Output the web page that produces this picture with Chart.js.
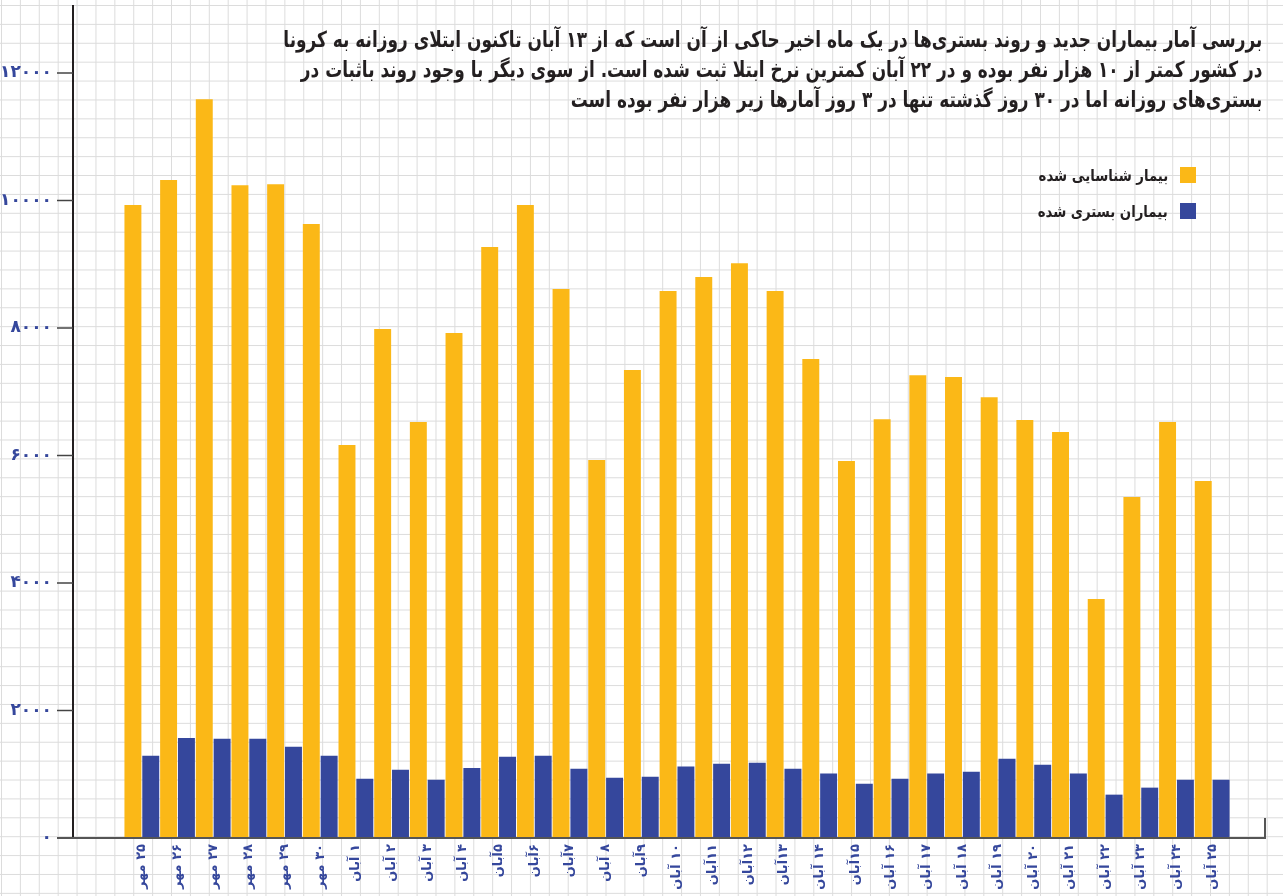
<!DOCTYPE html>
<html lang="fa">
<head>
<meta charset="utf-8">
<title>بیماران جدید و بستری</title>
<script src="https://cdn.jsdelivr.net/npm/chart.js@4.4.1/dist/chart.umd.min.js"></script>
<style>
  html, body { margin: 0; padding: 0; }
  body {
    width: 1283px; height: 896px; position: relative; overflow: hidden;
    background-color: #fff;
    /* graph paper background */
    background-image:
      linear-gradient(to right, #dcdcdc 1px, transparent 1px),
      linear-gradient(to bottom, #dcdcdc 1px, transparent 1px);
    background-size: 18.9px 18.9px;
    background-position: 1px 5px;
    font-family: "DejaVu Sans", sans-serif;
  }
  canvas { position: absolute; left: 0; top: 0; }
  #title {
    position: absolute; right: 21px; top: 25px;
    direction: rtl; text-align: right; white-space: nowrap;
    font-weight: bold; font-size: 22px; line-height: 30px; color: #231f20;
    transform-origin: right top;
  }
  #legend { position: absolute; right: 87px; top: 157px; direction: rtl; }
  .item { display: flex; align-items: center; height: 36px; }
  .box { width: 16px; height: 16px; margin-left: 12px; }
  .txt { font-weight: bold; font-size: 16px; color: #231f20; display: inline-block; transform: scaleX(0.83); transform-origin: right center; }
</style>
</head>
<body>
<canvas id="chart" width="1283" height="896" dir="rtl"></canvas>
<div id="title">
  <div>بررسی آمار بیماران جدید و روند بستری‌ها در یک ماه اخیر حاکی از آن است که از ۱۳ آبان تاکنون ابتلای روزانه به کرونا</div>
  <div>در کشور کمتر از ۱۰ هزار نفر بوده و در ۲۲ آبان کمترین نرخ ابتلا ثبت شده است. از سوی دیگر با وجود روند باثبات در</div>
  <div>بستری‌های روزانه اما در ۳۰ روز گذشته تنها در ۳ روز آمارها زیر هزار نفر بوده است</div>
</div>
<div id="legend"></div>
<script>
// days, 25 Mehr .. 25 Aban
var days = [
  "۲۵ مهر", "۲۶ مهر", "۲۷ مهر", "۲۸ مهر", "۲۹ مهر", "۳۰ مهر",
  "۱ آبان", "۲ آبان", "۳ آبان", "۴ آبان", "۵آبان", "۶آبان", "۷آبان", "۸ آبان", "۹آبان",
  "۱۰ آبان", "۱۱آبان", "۱۲آبان", "۱۳آبان", "۱۴ آبان", "۱۵آبان", "۱۶ آبان", "۱۷ آبان",
  "۱۸ آبان", "۱۹ آبان", "۲۰ آبان", "۲۱ آبان", "۲۲ آبان", "۲۳ آبان", "۲۴ آبان", "۲۵ آبان"
];

// new identified patients
var newCases = [
  9930, 10320, 11590, 10240, 10255, 9630,
  6165, 7985, 6525, 7920, 9270, 9930, 8610, 5930, 7340,
  8580, 8800, 9015, 8580, 7515, 5915, 6570, 7260,
  7230, 6915, 6555, 6370, 3750, 5350, 6525, 5600
];

// hospitalized patients
var hospitalized = [
  1290, 1570, 1555, 1555, 1430, 1290,
  930, 1070, 915, 1100, 1275, 1290, 1085, 945, 960,
  1120, 1165, 1180, 1085, 1010, 850, 930, 1010,
  1040, 1245, 1150, 1010, 680, 790, 915, 915
];

var seriesNames = ["بیمار شناسایی شده", "بیماران بستری شده"];
var seriesColors = ["#fbb817", "#35479c"];
var yMax = 12000;
var yStep = 2000;

function toFa(v) {
    return String(v).replace(/\d/g, function (d) { return "۰۱۲۳۴۵۶۷۸۹"[d]; });
}

// axis lines sit away from the bars, like the print graphic
var axisLines = {
    id: 'axisLines',
    afterDatasetsDraw: function (chart) {
        var ctx = chart.ctx;
        var y = chart.scales.y;
        var x0 = 73;
        var y0 = y.getPixelForValue(0);
        ctx.save();
        ctx.strokeStyle = '#231f20';
        ctx.lineWidth = 2;
        ctx.beginPath();
        ctx.moveTo(x0, 5);
        ctx.lineTo(x0, y0);
        ctx.stroke();
        ctx.lineWidth = 1.5;
        ctx.strokeStyle = '#444';
        y.ticks.forEach(function (t) {
            var py = y.getPixelForValue(t.value);
            ctx.beginPath();
            ctx.moveTo(57, py);
            ctx.lineTo(x0, py);
            ctx.stroke();
        });
        ctx.strokeStyle = '#555';
        ctx.lineWidth = 2;
        ctx.beginPath();
        ctx.moveTo(57, y0);
        ctx.lineTo(1265, y0);
        ctx.lineTo(1265, y0 - 20);
        ctx.stroke();
        ctx.restore();
    }
};

var chart = new Chart(document.getElementById('chart'), {
    type: 'bar',
    data: {
        labels: days,
        datasets: [{
            label: seriesNames[0],
            data: newCases,
            backgroundColor: seriesColors[0]
        }, {
            label: seriesNames[1],
            data: hospitalized,
            backgroundColor: seriesColors[1]
        }]
    },
    options: {
        responsive: false,
        animation: false,
        layout: { padding: { top: 73, right: 53, left: 0, bottom: 0 } },
        plugins: { legend: { display: false }, tooltip: { enabled: false } },
        datasets: { bar: { categoryPercentage: 1, barPercentage: 0.95 } },
        scales: {
            x: {
                border: { display: false },
                grid: { display: false, drawTicks: false },
                ticks: {
                    autoSkip: false, minRotation: 90, maxRotation: 90, padding: 6,
                    color: '#35479c',
                    font: { family: 'DejaVu Sans', size: 13, weight: 'bold' }
                },
                afterFit: function (s) { s.height = 58; s.paddingLeft = 0; s.paddingRight = 0; }
            },
            y: {
                min: 0, max: yMax,
                border: { display: false },
                grid: { display: false, drawTicks: false },
                ticks: {
                    stepSize: yStep, padding: 72,
                    color: '#35479c',
                    font: { family: 'DejaVu Sans', size: 17, weight: 'bold' },
                    callback: function (v) { return toFa(v); }
                },
                // the big label padding must not eat into the plot height
                afterFit: function (s) { s.width = 124; s.paddingTop = 0; s.paddingBottom = 0; }
            }
        }
    },
    plugins: [axisLines]
});

// html legend from the series names
var legend = document.getElementById('legend');
for (var i = 0; i < seriesNames.length; i++) {
    var item = document.createElement('div');
    item.className = 'item';
    item.innerHTML = '<span class="box" style="background:' + seriesColors[i] + '"></span><span class="txt">' + seriesNames[i] + '</span>';
    legend.appendChild(item);
}

// squeeze the title to the width it has in the print
var title = document.getElementById('title');
title.firstElementChild.style.display = 'inline-block';
var w = title.firstElementChild.getBoundingClientRect().width;
title.style.transform = 'scaleX(' + (979 / w) + ')';
</script>
</body>
</html>
